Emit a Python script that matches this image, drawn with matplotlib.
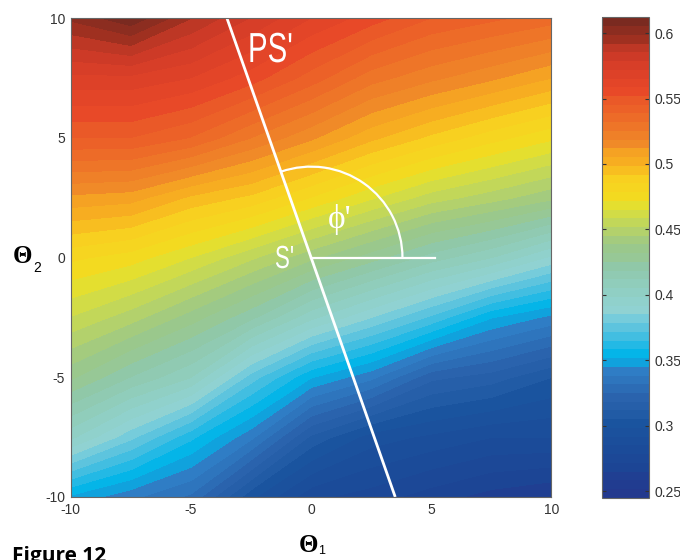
import matplotlib
matplotlib.use("Agg")
import matplotlib.pyplot as plt
import numpy as np
from matplotlib.colors import LinearSegmentedColormap
from matplotlib.font_manager import FontProperties
from matplotlib.patches import Arc, PathPatch
from matplotlib.text import TextPath
from matplotlib.transforms import Affine2D

plt.rcParams["axes.unicode_minus"] = False
plt.rcParams["font.family"] = ["Liberation Sans", "DejaVu Sans"]

# grid positions (theta1 across, theta2 up)
theta1 = [-10, -7.5, -5, -2.5, 0, 2.5, 5, 7.5, 10]
theta2 = [-10, -7.5, -5, -2.5, 0, 2.5, 5, 7.5, 10]

# values read column by column (one list per theta1, bottom -> top)
col_m10 = [0.350, 0.400, 0.433, 0.458, 0.480, 0.510, 0.545, 0.570, 0.600]
col_m75 = [0.340, 0.380, 0.418, 0.448, 0.475, 0.508, 0.545, 0.570, 0.610]
col_m5 = [0.330, 0.360, 0.405, 0.435, 0.465, 0.497, 0.538, 0.565, 0.592]
col_m25 = [0.300, 0.340, 0.375, 0.420, 0.453, 0.490, 0.525, 0.555, 0.578]
col_0 = [0.280, 0.310, 0.352, 0.400, 0.440, 0.478, 0.513, 0.542, 0.565]
col_25 = [0.275, 0.295, 0.340, 0.385, 0.428, 0.466, 0.500, 0.528, 0.555]
col_5 = [0.268, 0.290, 0.320, 0.370, 0.415, 0.455, 0.490, 0.520, 0.545]
col_75 = [0.262, 0.285, 0.315, 0.352, 0.405, 0.448, 0.481, 0.513, 0.540]
col_10 = [0.258, 0.285, 0.305, 0.343, 0.390, 0.440, 0.473, 0.505, 0.535]

cbar_ticks = [0.25, 0.3, 0.35, 0.4, 0.45, 0.5, 0.55, 0.6]
cbar_labels = ["0.25", "0.3", "0.35", "0.4", "0.45", "0.5", "0.55", "0.6"]
vmin, vmax = 0.245, 0.612

# colour stops picked from the colour bar
stop_vals = [0.245, 0.27, 0.30, 0.32, 0.34, 0.355, 0.37, 0.385, 0.40, 0.42,
             0.44, 0.46, 0.47, 0.49, 0.50, 0.52, 0.54, 0.56, 0.58, 0.60, 0.612]
stop_cols = ["#23398e", "#1c4696", "#1a55a0", "#2a62ac", "#3080c8", "#00b4e8",
             "#50c0e0", "#90d4d8", "#90d0c8", "#90c8a8", "#9cc888", "#d0dc48",
             "#f0e020", "#f8d020", "#f8b020", "#f08828", "#ec6428", "#e84828",
             "#d43c28", "#a03020", "#7a2a20"]

Z = np.array([col_m10, col_m75, col_m5, col_m25, col_0, col_25, col_5, col_75, col_10]).T
X, Y = np.meshgrid(theta1, theta2)

pos = [(v - vmin) / (vmax - vmin) for v in stop_vals]
cmap = LinearSegmentedColormap.from_list("ref", list(zip(pos, stop_cols)), N=64)

fig = plt.figure(figsize=(6.8, 5.6), dpi=100)
ax = fig.add_axes([0.104, 0.1125, 0.707, 0.855])
cax = fig.add_axes([0.885, 0.111, 0.069, 0.858])

levels = np.linspace(vmin, vmax, 56)
cs = ax.contourf(X, Y, Z, levels=levels, cmap=cmap, vmin=vmin, vmax=vmax)
cs.set_edgecolor("face")
cs.set_linewidth(0.4)

ax.set_xlim(-10, 10)
ax.set_ylim(-10, 10)
ax.set_xticks([-10, -5, 0, 5, 10])
ax.set_yticks([-10, -5, 0, 5, 10])
ax.tick_params(direction="in", length=0, labelsize=10, labelcolor="#333333", pad=4)
for sp in ax.spines.values():
    sp.set_color("#666666")
    sp.set_linewidth(0.8)

# PS' direction through S' and the angle phi'
ax.plot([-3.5, 3.5], [10, -10], color="white", lw=2.0, solid_capstyle="butt")
ax.plot([0, 5.15], [0, 0], color="white", lw=1.6)
ax.add_patch(Arc((0, 0), 7.6, 7.6, theta1=0, theta2=109.3, color="white", lw=1.6))


def narrow_label(s, x_px, y_px, size_px, squeeze=0.7, align="left"):
    # condensed white label, placed in pixels from the top-left corner
    tp = TextPath((0, 0), s, size=size_px, prop=FontProperties(family="Liberation Sans"))
    width = tp.get_extents().x1 * squeeze
    x0 = x_px - width if align == "right" else x_px
    tr = Affine2D().scale(squeeze, 1.0).translate(x0, 560 - y_px)
    fig.add_artist(PathPatch(tp, transform=tr, facecolor="white", edgecolor="none", zorder=5))


narrow_label("PS'", 248, 62, 42)
narrow_label("S'", 293, 268, 32, align="right")
ax.text(1.2, 1.6, "\u03d5'", color="white", fontsize=24, family=["Liberation Serif", "DejaVu Serif"],
        va="center", ha="center")

cb = fig.colorbar(cs, cax=cax, ticks=cbar_ticks)
cb.ax.set_yticklabels(cbar_labels)
cb.ax.tick_params(direction="in", left=True, right=True, length=3, width=0.8,
                  color="#333333", labelsize=10, labelcolor="#333333", pad=4)
cb.outline.set_edgecolor("#666666")
cb.outline.set_linewidth(0.8)
cb.ax.set_ylim(vmin, vmax)

# axis labels
serif = ["Liberation Serif", "DejaVu Serif"]
fig.text(309 / 680, 1 - 545 / 560, "\u0398", fontsize=18, fontweight="bold", family=serif,
         ha="center", va="center")
fig.text(322 / 680, 1 - 551 / 560, "1", fontsize=9, ha="center", va="center")
fig.text(22 / 680, 1 - 257 / 560, "\u0398", fontsize=18, fontweight="bold", family=serif,
         ha="center", va="center")
fig.text(37 / 680, 1 - 268 / 560, "2", fontsize=10, ha="center", va="center")

fig.text(12 / 680, 1 - 546 / 560, "Figure 12", fontsize=15, fontweight="bold",
         family=["Open Sans", "DejaVu Sans"], ha="left", va="top")

fig.savefig("out.png", dpi=100)
